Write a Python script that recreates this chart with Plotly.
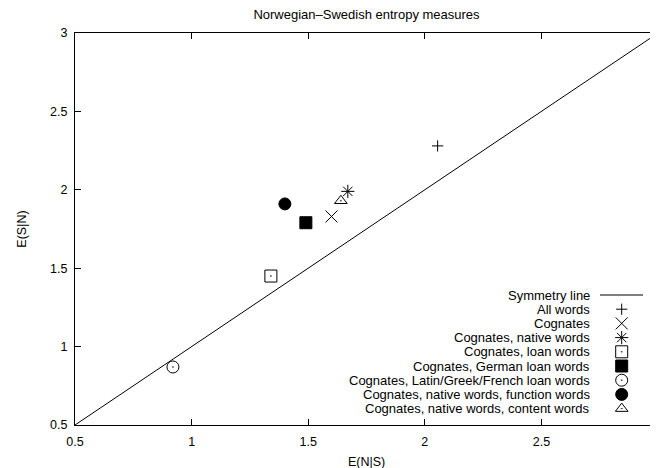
import plotly.graph_objects as go

# ---- data ----
series_names = [
    "All words",
    "Cognates",
    "Cognates, native words",
    "Cognates, loan words",
    "Cognates, German loan words",
    "Cognates, Latin/Greek/French loan words",
    "Cognates, native words, function words",
    "Cognates, native words, content words",
]
e_n_given_s = [2.055, 1.60, 1.67, 1.34, 1.49, 0.92, 1.40, 1.64]   # x
e_s_given_n = [2.28, 1.83, 1.99, 1.45, 1.79, 0.87, 1.91, 1.93]    # y
symmetry_x = [0.5, 3.0]
symmetry_y = [0.5, 3.0]
tick_vals = [0.5, 1, 1.5, 2, 2.5, 3]
tick_text = ["0.5", "1", "1.5", "2", "2.5", "3"]

# ---- styles ----
symbols = ["cross-thin", "x-thin", "asterisk", "square-open-dot", "square",
           "circle-open-dot", "circle", "triangle-up-open-dot"]
sizes = [8, 12, 11, 12, 12, 12, 12, 11]
FONT = "Liberation Sans, Arial, Helvetica, sans-serif"
BODY = 8                       # default page margin of the browser
W, H = 658 - BODY, 468 - BODY
# plot area in window pixels
PX_L, PX_R, PX_T, PX_B = 75, 658, 33, 425
ML, MR, MT = PX_L - BODY, 0, PX_T - BODY
MB = H - (PX_B - BODY)
XTITLE_Y = 461.7
YTITLE_X = 21.7

fig = go.Figure()

# symmetry line
fig.add_trace(go.Scatter(x=symmetry_x, y=symmetry_y, mode="lines",
                         line=dict(color="black", width=1), showlegend=False,
                         name="Symmetry line", hoverinfo="skip"))

# data points
for i, name in enumerate(series_names):
    fig.add_trace(go.Scatter(
        x=[e_n_given_s[i]], y=[e_s_given_n[i]], mode="markers", name=name,
        marker=dict(symbol=symbols[i], size=sizes[i], color="black",
                    line=dict(color="black", width=1)),
        showlegend=False))

# ---- custom gnuplot-style legend (pixel coordinate overlay axes) ----
LEG_TEXT_X = 592
LEG_KEY_X = 621.7
LEG_LINE_X = [600, 643]
LEG_Y0 = 295
LEG_DY = 14.2
legend_labels = ["Symmetry line"] + series_names
for i, lab in enumerate(legend_labels):
    yy = LEG_Y0 + LEG_DY * i
    fig.add_annotation(x=LEG_TEXT_X, y=yy, xref="x2", yref="y2", text=lab,
                       showarrow=False, xanchor="right", yanchor="middle",
                       font=dict(family=FONT, size=13, color="black"))
    if i == 0:
        fig.add_trace(go.Scatter(x=LEG_LINE_X, y=[yy, yy], xaxis="x2", yaxis="y2",
                                 mode="lines", line=dict(color="black", width=1),
                                 showlegend=False, hoverinfo="skip"))
    else:
        k = i - 1
        fig.add_trace(go.Scatter(
            x=[LEG_KEY_X], y=[yy], xaxis="x2", yaxis="y2", mode="markers",
            marker=dict(symbol=symbols[k], size=sizes[k], color="black",
                        line=dict(color="black", width=1)),
            showlegend=False, hoverinfo="skip"))

axis_common = dict(
    tickvals=tick_vals, ticktext=tick_text, ticks="inside", ticklen=6,
    tickwidth=1, tickcolor="black", showgrid=False, zeroline=False,
    showline=True, linecolor="black", linewidth=1,
    tickfont=dict(family=FONT, size=12.5, color="black"),
)

fig.update_layout(
    width=W, height=H,
    margin=dict(l=ML, r=MR, t=MT, b=MB, pad=0),
    paper_bgcolor="white", plot_bgcolor="white",
    showlegend=False,
    title=dict(text="Norwegian\u2013Swedish entropy measures",
               x=((PX_L + PX_R) / 2 - BODY) / W, xref="container", xanchor="center",
               y=1 - (14 - BODY) / H, yref="container", yanchor="middle",
               font=dict(family=FONT, size=13, color="black")),
    xaxis=dict(range=[0.5, 3.0], mirror="ticks", ticklabelstandoff=5, **axis_common),
    yaxis=dict(range=[0.5, 3.0], mirror=False, ticklabelstandoff=4, **axis_common),
    yaxis3=dict(range=[0.5, 3.0], overlaying="y", side="right", anchor="x",
                tickvals=tick_vals, ticks="inside", ticklen=6, tickwidth=1,
                tickcolor="black", showticklabels=False, showgrid=False,
                zeroline=False, showline=False),
    xaxis2=dict(range=[PX_L, PX_R], overlaying="x", visible=False, anchor="y2"),
    yaxis2=dict(range=[PX_B, PX_T], overlaying="y", visible=False, anchor="x2"),
)

# axis titles
fig.add_annotation(x=0.5, y=-(XTITLE_Y - PX_B) / (PX_B - PX_T), xref="paper", yref="paper",
                   text="E(N|S)", showarrow=False, xanchor="center", yanchor="middle",
                   font=dict(family=FONT, size=12.5, color="black"))
fig.add_annotation(x=-(PX_L - YTITLE_X) / (PX_R - PX_L), y=0.5, xref="paper", yref="paper",
                   text="E(S|N)", showarrow=False, textangle=-90,
                   xanchor="center", yanchor="middle",
                   font=dict(family=FONT, size=12.5, color="black"))

# dummy trace so the right tick axis is drawn
fig.add_trace(go.Scatter(x=[None], y=[None], yaxis="y3", showlegend=False))

fig.write_html("out.html")
